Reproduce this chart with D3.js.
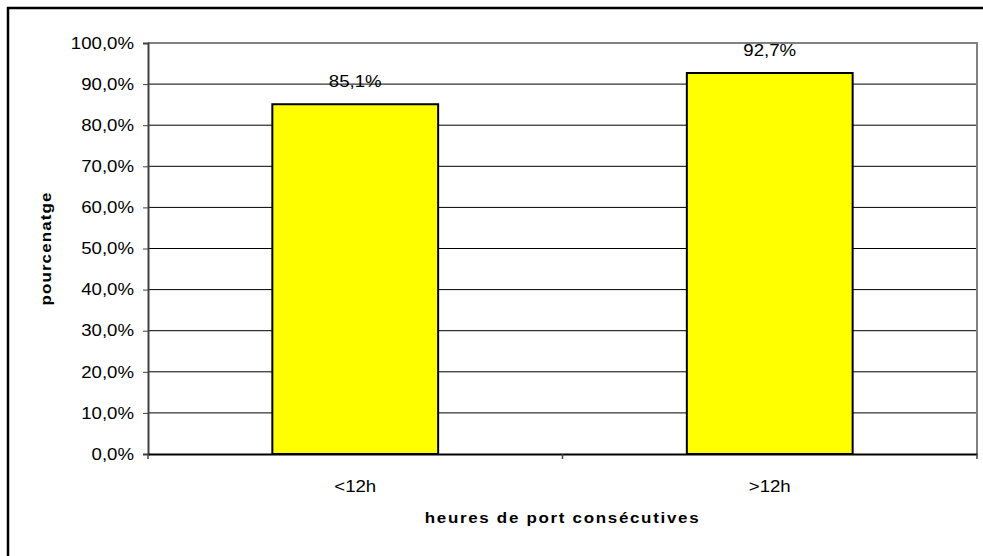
<!DOCTYPE html>
<html>
<head>
<meta charset="utf-8">
<script src="https://cdn.jsdelivr.net/npm/d3@7"></script>
<style>
  body { margin: 0; background: #fff; }
  text { font-family: "Liberation Sans", Arial, sans-serif; fill: #000; }
</style>
</head>
<body>
<svg width="983" height="556"></svg>
<script>
var categories = ['<12h', '>12h'];
var values = [85.1, 92.7];
var yTicks = [0, 10, 20, 30, 40, 50, 60, 70, 80, 90, 100];

var svg = d3.select('svg');
var plotLeft = 148, plotRight = 977, plotTop = 43, plotBottom = 454;
var stretch = 1.13; // the reference text is a bit wider than Arial

var fmt = function (v) { return d3.format('.1f')(v).replace('.', ',') + '%'; };

var x = d3.scaleBand().domain(categories).range([plotLeft, plotRight]).padding(0);
var y = d3.scaleLinear().domain([0, 100]).range([plotBottom, plotTop]);

// outer frame (only top and left visible)
svg.append('path')
    .attr('d', 'M8,556 V8 H983')
    .attr('fill', 'none')
    .attr('stroke', '#000')
    .attr('stroke-width', 2.5);

// gridlines
svg.append('g')
    .selectAll('line')
    .data(yTicks.filter(function (d) { return d > 0 && d < 100; }))
    .join('line')
    .attr('x1', plotLeft).attr('x2', plotRight)
    .attr('y1', function (d) { return y(d); })
    .attr('y2', function (d) { return y(d); })
    .attr('stroke', '#000')
    .attr('stroke-width', 1);

// plot frame top/right
svg.append('path')
    .attr('d', 'M' + plotLeft + ',' + y(100) + ' H' + plotRight + ' V' + plotBottom)
    .attr('fill', 'none')
    .attr('stroke', '#808080')
    .attr('stroke-width', 2);

// bars
var barW = x.bandwidth() * 0.4;
svg.append('g')
    .selectAll('rect')
    .data(values)
    .join('rect')
    .attr('x', function (d, i) { return x(categories[i]) + (x.bandwidth() - barW) / 2; })
    .attr('y', function (d) { return y(d); })
    .attr('width', barW)
    .attr('height', function (d) { return y(0) - y(d); })
    .attr('fill', '#ffff00')
    .attr('stroke', '#000')
    .attr('stroke-width', 2);

// value labels
svg.append('g')
    .selectAll('text')
    .data(values)
    .join('text')
    .attr('transform', function (d, i) {
        return 'translate(' + (x(categories[i]) + x.bandwidth() / 2) + ',' + (y(d) - 17) + ') scale(' + stretch + ',1)';
    })
    .attr('text-anchor', 'middle')
    .style('font-size', '16.5px')
    .text(function (d) { return fmt(d); });

// y axis
var yAxis = svg.append('g')
    .attr('transform', 'translate(' + plotLeft + ',0)')
    .call(d3.axisLeft(y).tickValues(yTicks).tickSize(5).tickPadding(9).tickFormat(fmt));
yAxis.select('.domain').attr('stroke', '#404040').attr('stroke-width', 2);
yAxis.selectAll('.tick line').attr('stroke', '#404040');
yAxis.selectAll('.tick text')
    .attr('x', -14 / stretch)
    .attr('transform', 'scale(' + stretch + ',1)')
    .style('font-size', '16.5px')
    .attr('font-family', null);

// x axis
var xAxis = svg.append('g')
    .attr('transform', 'translate(0,' + plotBottom + ')')
    .call(d3.axisBottom(x).tickSize(0).tickPadding(26));
xAxis.select('.domain').attr('stroke', '#000').attr('stroke-width', 2);
xAxis.selectAll('.tick text')
    .attr('transform', 'scale(' + stretch + ',1)')
    .style('font-size', '16.5px')
    .attr('font-family', null);
xAxis.selectAll('line.sep')
    .data([plotLeft, x(categories[1]), plotRight])
    .join('line')
    .attr('class', 'sep')
    .attr('x1', function (d) { return d; }).attr('x2', function (d) { return d; })
    .attr('y1', 0).attr('y2', 5)
    .attr('stroke', '#404040').attr('stroke-width', 1.5);

// axis titles
svg.append('text')
    .attr('transform', 'translate(' + x(categories[1]) + ',523) scale(' + stretch + ',1)')
    .attr('text-anchor', 'middle')
    .style('font-size', '15px')
    .style('font-weight', 'bold')
    .style('letter-spacing', '1.5px')
    .text('heures de port consécutives');

svg.append('text')
    .attr('transform', 'translate(51,' + ((plotTop + plotBottom) / 2) + ') rotate(-90) scale(' + stretch + ',1)')
    .attr('text-anchor', 'middle')
    .style('font-size', '15px')
    .style('font-weight', 'bold')
    .style('letter-spacing', '1px')
    .text('pourcenatge');
</script>
</body>
</html>
